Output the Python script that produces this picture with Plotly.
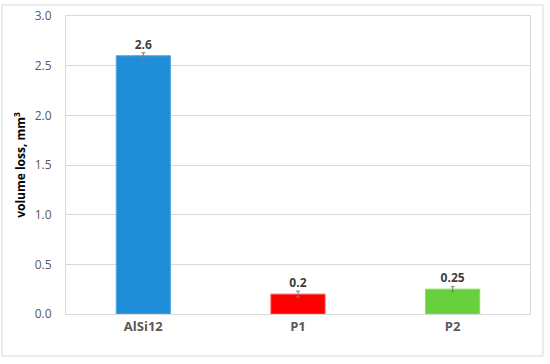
import plotly.graph_objects as go

# data
materials = ["AlSi12", "P1", "P2"]
volume_loss = [2.6, 0.2, 0.25]
loss_err = [0.03, 0.03, 0.025]
label_text = ["2.6", "0.2", "0.25"]
bar_colors = ["#1F8DD8", "#FF0000", "#68D03C"]
edge_colors = ["#4FA6E0", "#FF5050", "#8ADA66"]
y_ticks = [0.0, 0.5, 1.0, 1.5, 2.0, 2.5, 3.0]

fig = go.Figure()
fig.add_trace(go.Bar(
    x=materials, y=volume_loss,
    marker=dict(color=bar_colors, line=dict(color=edge_colors, width=1)),
    width=0.35,
    error_y=dict(type="data", array=loss_err, color="#7F7F7F", thickness=1, width=2),
    text=label_text, textposition="outside", cliponaxis=False,
    textfont=dict(family="Open Sans", size=12, color="#404040"),
    texttemplate="<b>%{text}</b>",
))

fig.update_layout(
    width=550, height=364,
    margin=dict(l=66, r=20, t=16, b=50, autoexpand=False),
    paper_bgcolor="white", plot_bgcolor="white",
    showlegend=False,
    font=dict(family="Open Sans", color="#595959"),
    shapes=[dict(type="rect", xref="paper", yref="paper",
                 x0=-0.138, x1=1.028, y0=-0.141, y1=1.037,
                 line=dict(color="#D9D9D9", width=1), layer="below")],
)
fig.update_yaxes(
    range=[0, 3.0], tickvals=y_ticks, tickformat=".1f",
    automargin=False,
    showgrid=True, gridcolor="#D9D9D9", gridwidth=1,
    showline=True, linecolor="#D9D9D9", mirror=True,
    zeroline=False, ticks="", ticklabelstandoff=11,
    tickprefix="<b>", ticksuffix="</b>",
    tickfont=dict(family="Open Sans", size=12, color="#595959"),
    title=dict(text="<b>volume loss, mm<sup>3</sup></b>", standoff=6,
               font=dict(family="Open Sans", size=12, color="#000000")),
)
fig.update_xaxes(
    automargin=False,
    showline=True, linecolor="#D9D9D9", mirror=True, ticks="",
    tickfont=dict(family="Open Sans", size=13, color="#595959"),
    tickprefix="<b>", ticksuffix="</b>",
)

# drop the default page margin so the figure sits at the window corner
fig.write_html("out.html", config={"displayModeBar": False},
               post_script="document.body.style.margin='0';")
